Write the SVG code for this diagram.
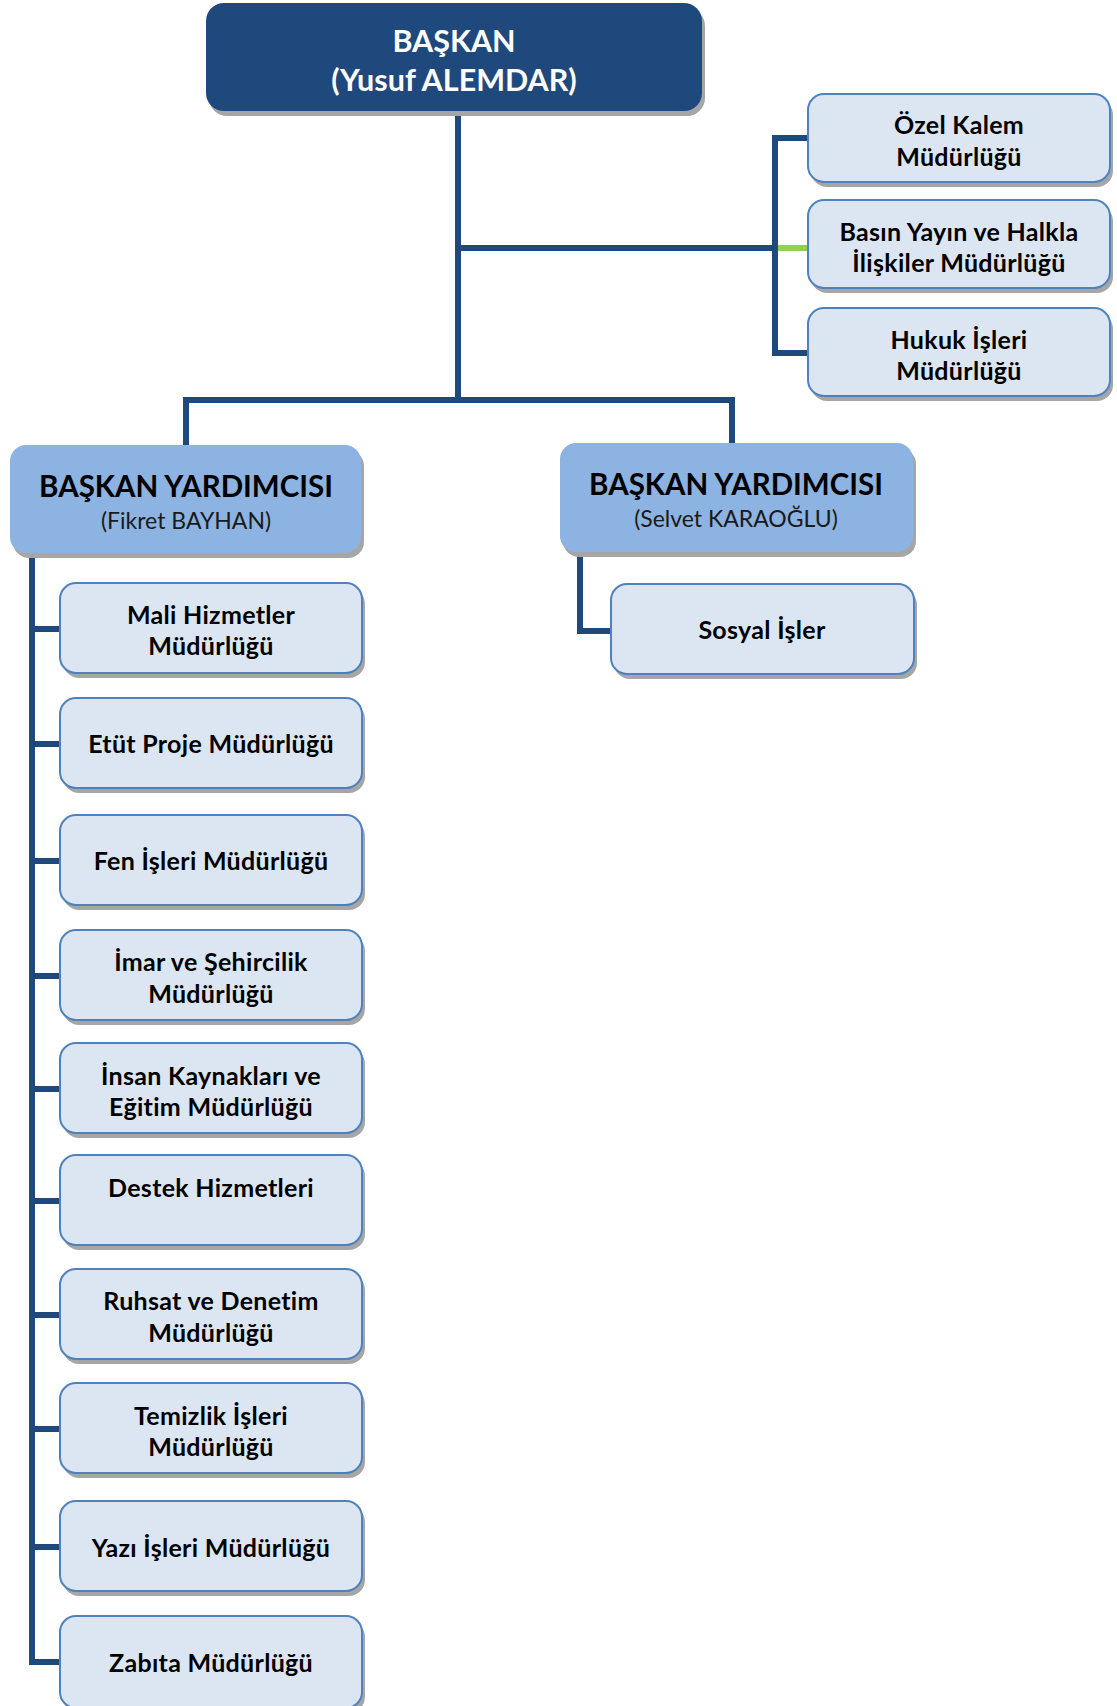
<svg xmlns="http://www.w3.org/2000/svg" width="1117" height="1706" viewBox="0 0 1117 1706">
<style>
.sh{fill:#a6a6a6}
.top{fill:#1f497d}
.vp{fill:#8db3e2}
.bx{fill:#dce6f2;stroke:#4f81bd;stroke-width:2}
.ln{stroke:#1f497d;stroke-width:6;fill:none;stroke-linecap:square}
.gr{stroke:#92d050;stroke-width:6;fill:none}
text{font-family:Lato,"Open Sans","Liberation Sans",sans-serif;text-anchor:middle;dominant-baseline:central}
.tw{fill:#fff;font-weight:bold;font-size:30.5px}
.vt{fill:#000;font-weight:bold;font-size:29.5px}
.vs{fill:#1a1a1a;font-size:23px}
.t{fill:#000;font-weight:bold;font-size:25px;letter-spacing:0.3px}
</style>
<g id="connectors">
<path class="ln" d="M458 111 V400"/>
<path class="ln" d="M458 248 H776"/>
<path class="ln" d="M808 138 H775 V353 H808"/>
<path class="gr" d="M778 248 H808"/>
<path class="ln" d="M186 446 V400 H732 V444"/>
<path class="ln" d="M32 553 V1662 H60"/>
<path class="ln" d="M32 629 H60 M32 744 H60 M32 861 H60 M32 976 H60 M32 1089 H60 M32 1201 H60 M32 1315 H60 M32 1429 H60 M32 1547 H60"/>
<path class="ln" d="M580 552 V631 H611"/>
</g>
<g id="baskan">
<rect class="sh" x="209" y="8" width="496" height="108" rx="18"/>
<rect class="top" x="206" y="3" width="496" height="108" rx="18"/>
<text class="tw" x="454" y="40">BAŞKAN</text>
<text class="tw" x="454" y="79">(Yusuf ALEMDAR)</text>
</g>
<g id="ozel-kalem">
<rect class="sh" x="811" y="99" width="302" height="88" rx="16"/>
<rect class="bx" x="808" y="94" width="302" height="88" rx="16"/>
<text class="t" x="959" y="124">Özel Kalem</text>
<text class="t" x="959" y="156">Müdürlüğü</text>
</g>
<g id="basin-yayin">
<rect class="sh" x="811" y="205" width="302" height="88" rx="16"/>
<rect class="bx" x="808" y="200" width="302" height="88" rx="16"/>
<text class="t" x="959" y="231">Basın Yayın ve Halkla</text>
<text class="t" x="959" y="262">İlişkiler Müdürlüğü</text>
</g>
<g id="hukuk">
<rect class="sh" x="811" y="313" width="302" height="88" rx="16"/>
<rect class="bx" x="808" y="308" width="302" height="88" rx="16"/>
<text class="t" x="959" y="339">Hukuk İşleri</text>
<text class="t" x="959" y="370">Müdürlüğü</text>
</g>
<g id="vp-fikret">
<rect class="sh" x="13" y="450" width="351" height="108" rx="16"/>
<rect class="vp" x="10" y="445" width="351" height="108" rx="16"/>
<text class="vt" x="186" y="485">BAŞKAN YARDIMCISI</text>
<text class="vs" x="186" y="520">(Fikret BAYHAN)</text>
</g>
<g id="vp-selvet">
<rect class="sh" x="563" y="448" width="353" height="109" rx="16"/>
<rect class="vp" x="560" y="443" width="353" height="109" rx="16"/>
<text class="vt" x="736" y="483">BAŞKAN YARDIMCISI</text>
<text class="vs" x="736" y="518">(Selvet KARAOĞLU)</text>
</g>
<g id="sosyal">
<rect class="sh" x="614" y="589" width="303" height="90" rx="16"/>
<rect class="bx" x="611" y="584" width="303" height="90" rx="16"/>
<text class="t" x="762" y="629">Sosyal İşler</text>
</g>
<g id="mali">
<rect class="sh" x="63" y="588" width="302" height="90" rx="16"/>
<rect class="bx" x="60" y="583" width="302" height="90" rx="16"/>
<text class="t" x="211" y="614">Mali Hizmetler</text>
<text class="t" x="211" y="645">Müdürlüğü</text>
</g>
<g id="etut">
<rect class="sh" x="63" y="703" width="302" height="90" rx="16"/>
<rect class="bx" x="60" y="698" width="302" height="90" rx="16"/>
<text class="t" x="211" y="743">Etüt Proje Müdürlüğü</text>
</g>
<g id="fen">
<rect class="sh" x="63" y="820" width="302" height="90" rx="16"/>
<rect class="bx" x="60" y="815" width="302" height="90" rx="16"/>
<text class="t" x="211" y="860">Fen İşleri Müdürlüğü</text>
</g>
<g id="imar">
<rect class="sh" x="63" y="935" width="302" height="90" rx="16"/>
<rect class="bx" x="60" y="930" width="302" height="90" rx="16"/>
<text class="t" x="211" y="961">İmar ve Şehircilik</text>
<text class="t" x="211" y="993">Müdürlüğü</text>
</g>
<g id="insan">
<rect class="sh" x="63" y="1048" width="302" height="90" rx="16"/>
<rect class="bx" x="60" y="1043" width="302" height="90" rx="16"/>
<text class="t" x="211" y="1075">İnsan Kaynakları ve</text>
<text class="t" x="211" y="1106">Eğitim Müdürlüğü</text>
</g>
<g id="destek">
<rect class="sh" x="63" y="1160" width="302" height="90" rx="16"/>
<rect class="bx" x="60" y="1155" width="302" height="90" rx="16"/>
<text class="t" x="211" y="1187">Destek Hizmetleri</text>
</g>
<g id="ruhsat">
<rect class="sh" x="63" y="1274" width="302" height="90" rx="16"/>
<rect class="bx" x="60" y="1269" width="302" height="90" rx="16"/>
<text class="t" x="211" y="1300">Ruhsat ve Denetim</text>
<text class="t" x="211" y="1332">Müdürlüğü</text>
</g>
<g id="temizlik">
<rect class="sh" x="63" y="1388" width="302" height="90" rx="16"/>
<rect class="bx" x="60" y="1383" width="302" height="90" rx="16"/>
<text class="t" x="211" y="1415">Temizlik İşleri</text>
<text class="t" x="211" y="1446">Müdürlüğü</text>
</g>
<g id="yazi">
<rect class="sh" x="63" y="1506" width="302" height="90" rx="16"/>
<rect class="bx" x="60" y="1501" width="302" height="90" rx="16"/>
<text class="t" x="211" y="1547">Yazı İşleri Müdürlüğü</text>
</g>
<g id="zabita">
<rect class="sh" x="63" y="1621" width="302" height="92" rx="16"/>
<rect class="bx" x="60" y="1616" width="302" height="92" rx="16"/>
<text class="t" x="211" y="1662">Zabıta Müdürlüğü</text>
</g>
</svg>
